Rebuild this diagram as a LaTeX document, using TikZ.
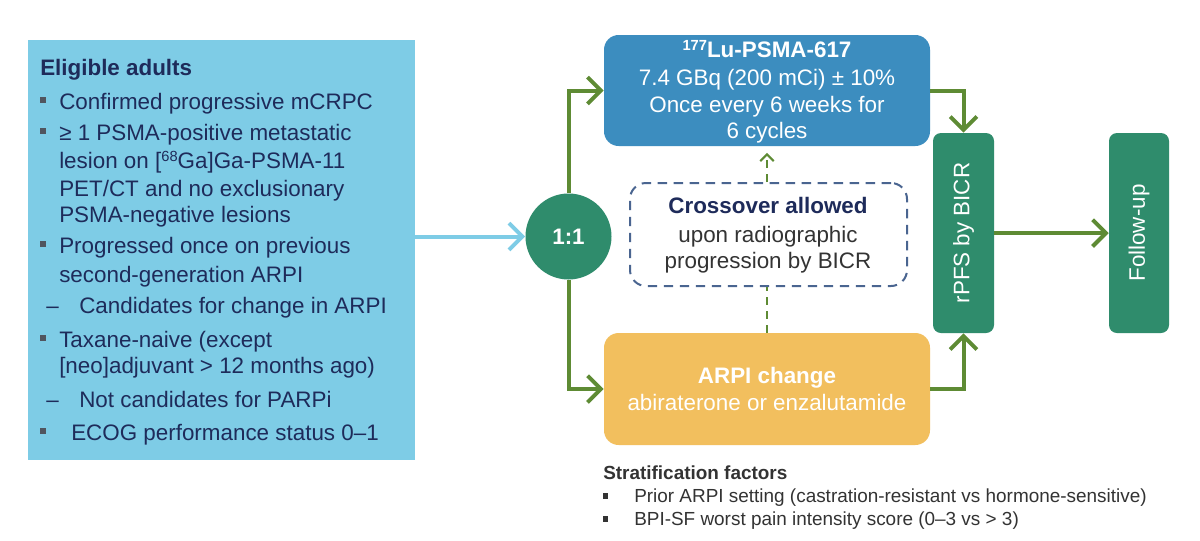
\documentclass[tikz,border=0pt]{standalone}
\usepackage{fontspec}
\setmainfont{Liberation Sans}
\usetikzlibrary{arrows.meta,fit}
\definecolor{leftblue}{RGB}{126,204,230}
\definecolor{navy}{RGB}{30,43,90}
\definecolor{topblue}{RGB}{60,141,191}
\definecolor{armyellow}{RGB}{242,191,94}
\definecolor{boxgreen}{RGB}{47,140,108}
\definecolor{olive}{RGB}{94,139,52}
\definecolor{dashnavy}{RGB}{74,101,144}
\definecolor{strattext}{RGB}{51,51,51}
\definecolor{bulgray}{RGB}{80,85,95}
\newcommand\fsN{\fontsize{16.8}{20}\selectfont}
\newcommand\fsS{\fontsize{14.2}{17}\selectfont}
\begin{document}
\begin{tikzpicture}[x=0.75pt,y=-0.75pt,
  txt/.style={anchor=base west, inner sep=0, text=navy, font=\fsN},
  ctr/.style={anchor=base, inner sep=0, font=\fsN},
  stxt/.style={anchor=base west, inner sep=0, text=strattext, font=\fsS},
  bul/.style={fill=bulgray, inner sep=0, minimum size=4.5pt},
  sbul/.style={fill=strattext, inner sep=0, minimum size=3.8pt},
  boxn/.style={inner sep=0, draw=none},
  arr/.style={draw=olive, line width=3pt, -{Straight Barb[length=10pt,width=20pt]}},
  barr/.style={draw=leftblue, line width=3pt, -{Straight Barb[length=10pt,width=20pt]}},
  dgreen/.style={draw=olive, line width=1.6pt, dash pattern=on 6pt off 4.5pt}
]
\fill[white] (0,0) rectangle (1200,540);
\useasboundingbox (0,0) rectangle (1200,540);

% left box
\node[boxn, fill=leftblue, fit={(28,40) (415,460)}] (elig) {};
\node[txt, font=\fsN\bfseries] (t0) at (40,75) {Eligible adults};
\node[bul] (b1) at (42.5,100) {};
\node[txt] (t1) at (59,109) {Confirmed progressive mCRPC};
\node[bul] (b2) at (42.5,131) {};
\node[txt] (t2) at (59,140) {≥ 1 PSMA-positive metastatic};
\node[txt] (t3) at (59,168) {lesion on [\raisebox{0.55ex}{\fontsize{11}{11}\selectfont 68}Ga]Ga-PSMA-11};
\node[txt] (t4) at (59,196) {PET/CT and no exclusionary};
\node[txt] (t5) at (59,222) {PSMA-negative lesions};
\node[bul] (b3) at (42.5,244) {};
\node[txt] (t6) at (59,253) {Progressed once on previous};
\node[txt] (t7) at (59,282) {second-generation ARPI};
\node[txt] (d1) at (46,313) {–};
\node[txt] (t8) at (79,313) {Candidates for change in ARPI};
\node[bul] (b4) at (42.5,338) {};
\node[txt] (t9) at (59,347) {Taxane-naive (except};
\node[txt] (t10) at (59,373) {[neo]adjuvant > 12 months ago)};
\node[txt] (d2) at (46,407) {–};
\node[txt] (t11) at (79,407) {Not candidates for PARPi};
\node[bul] (b5) at (42.5,431) {};
\node[txt] (t12) at (71,440) {ECOG performance status 0–1};

% randomisation circle
\node[circle, fill=boxgreen, minimum size=64.5pt, inner sep=0, text=white, font=\fsN\bfseries] (circ) at (568.5,236.5) {1:1};

% top arm
\node[boxn, fill=topblue, rounded corners=11pt, fit={(604,35) (930,146)}] (topbox) {};
\node[ctr, text=white, font=\fsN\bfseries] (u1) at (767,57) {\raisebox{0.55ex}{\fontsize{11}{11}\selectfont\bfseries 177}Lu-PSMA-617};
\node[ctr, text=white] (u2) at (767,85) {7.4 GBq (200 mCi) ± 10\%};
\node[ctr, text=white] (u3) at (767,112) {Once every 6 weeks for};
\node[ctr, text=white] (u4) at (767,138) {6 cycles};

% bottom arm
\node[boxn, fill=armyellow, rounded corners=11pt, fit={(604,333) (930,445)}] (botbox) {};
\node[ctr, text=white, font=\fsN\bfseries] (a1) at (767,383) {ARPI change};
\node[ctr, text=white] (a2) at (767,410) {abiraterone or enzalutamide};

% crossover
\node[boxn, draw=dashnavy, line width=1.5pt, dash pattern=on 7pt off 5pt, rounded corners=12pt, fit={(630,183) (907,286)}] (cross) {};
\node[ctr, text=navy, font=\fsN\bfseries] (c1) at (768,213) {Crossover allowed};
\node[ctr, text=strattext] (c2) at (768,242) {upon radiographic};
\node[ctr, text=strattext] (c3) at (768,268) {progression by BICR};

% endpoint boxes
\node[boxn, fill=boxgreen, rounded corners=6pt, fit={(933,133) (994,333)}] (rpfs) {};
\node[inner sep=0, rotate=90, text=white, font=\fsN] (rt) at (rpfs.center) {rPFS by BICR};
\node[boxn, fill=boxgreen, rounded corners=6pt, fit={(1109,133) (1169,333)}] (fu) {};
\node[inner sep=0, rotate=90, text=white, font=\fsN] (ft) at (fu.center) {Follow-up};

% connectors
\draw[barr] (elig.east |- circ.west) -- (circ.west);
\draw[arr] (circ.north) |- (topbox.west);
\draw[arr] (circ.south) |- (botbox.west);
\draw[arr] (topbox.east) -| (rpfs.north);
\draw[arr] (botbox.east) -| (rpfs.south);
\draw[arr] (rpfs.east) -- (fu.west);
\draw[dgreen] (botbox.north) -- (botbox.north |- cross.south);
\draw[dgreen, -{Straight Barb[length=5pt,width=10pt,line width=1.6pt]}, shorten >=5pt] (cross.north -| topbox.south) -- (topbox.south);

% stratification
\node[stxt, font=\fsS\bfseries] (s0) at (603,479) {Stratification factors};
\node[sbul] (sb1) at (605.5,496) {};
\node[stxt] (s1) at (634,502) {Prior ARPI setting (castration-resistant vs hormone-sensitive)};
\node[sbul] (sb2) at (605.5,519) {};
\node[stxt] (s2) at (634,525) {BPI-SF worst pain intensity score (0–3 vs > 3)};
\end{tikzpicture}
\end{document}
